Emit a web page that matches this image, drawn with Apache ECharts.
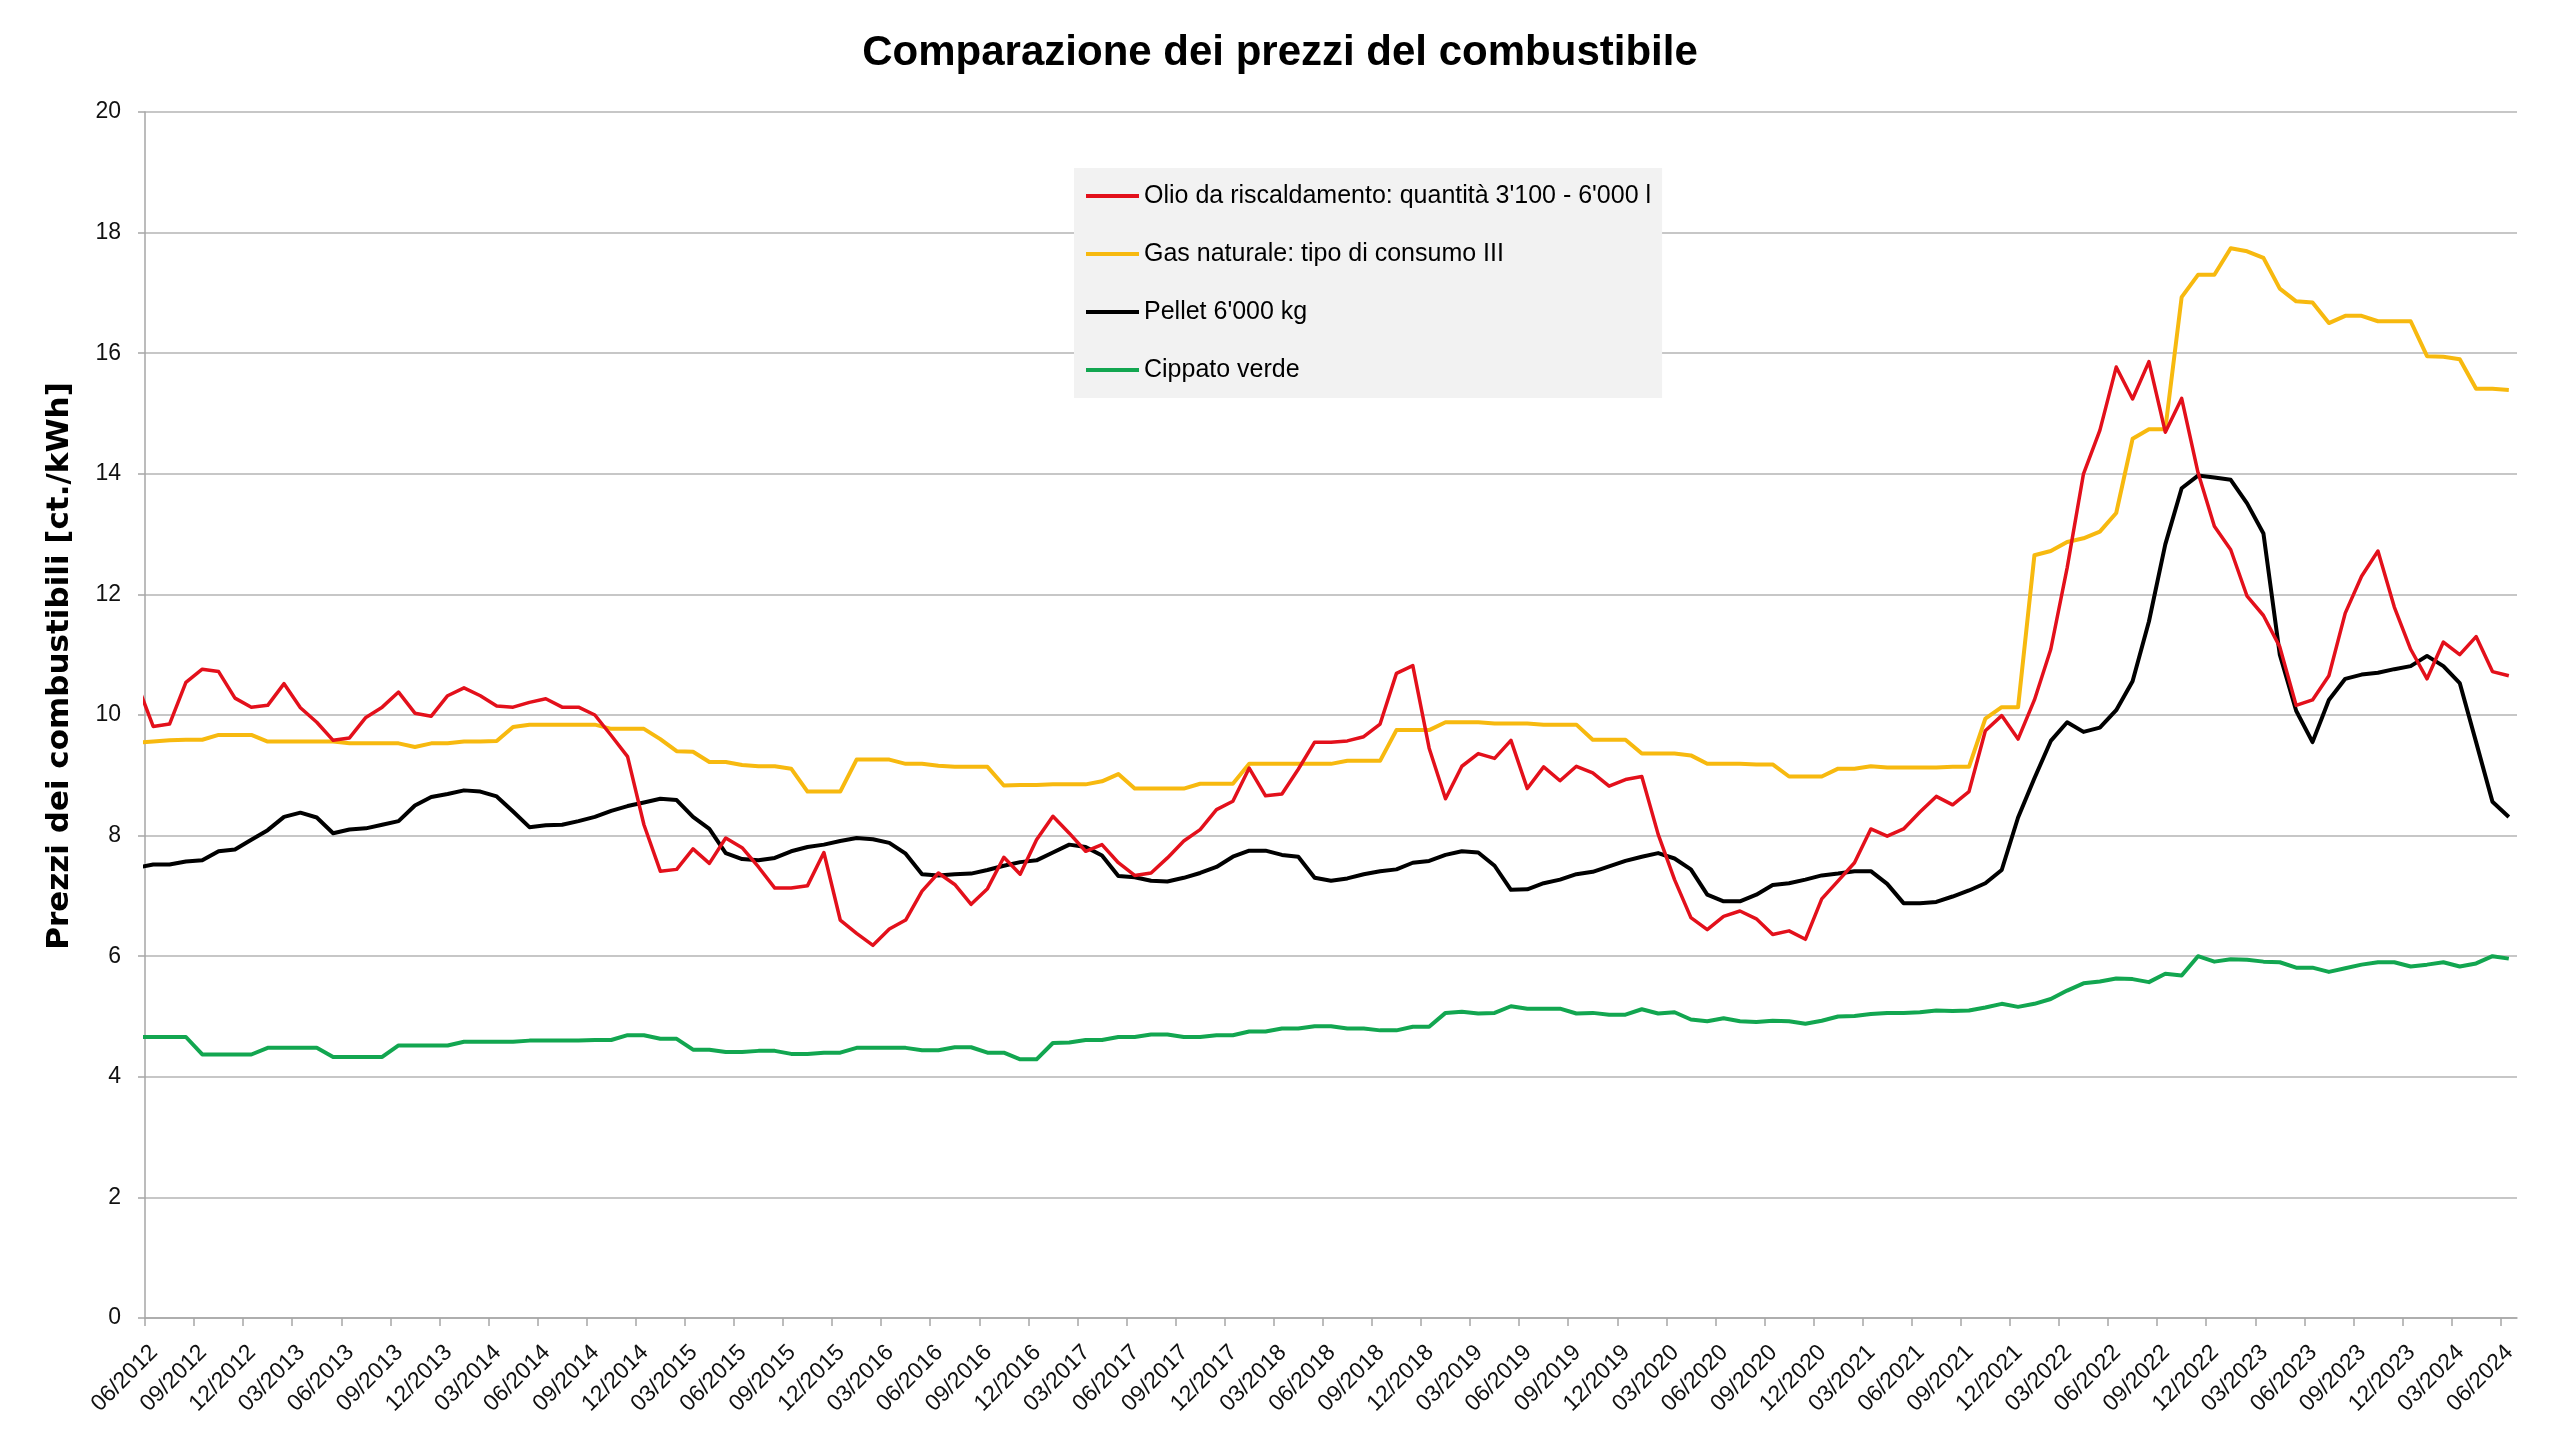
<!DOCTYPE html>
<html>
<head>
<meta charset="utf-8">
<script src="https://cdn.jsdelivr.net/npm/echarts@6/dist/echarts.min.js"></script>
<style>html,body{margin:0;padding:0;background:#fff}#c{width:2560px;height:1440px}</style>
</head>
<body>
<div id="c"></div>
<script>
// Monthly categories: 05/2012 (partly outside the plot) .. 06/2024
const monthLabels = [];
for (let i = 0; i < 146; i++) {
  const m = (4 + i) % 12 + 1;
  const y = 2012 + Math.floor((4 + i) / 12);
  monthLabels.push(String(m).padStart(2, '0') + '/' + y);
}
// x-axis tick labels every 3 months, 06/2012 .. 06/2024
const tickLabels = monthLabels.filter((_, i) => i >= 1 && (i - 1) % 3 === 0);

const seriesNames = [
  "Olio da riscaldamento: quantità 3'100 - 6'000 l",
  "Gas naturale: tipo di consumo III",
  "Pellet 6'000 kg",
  "Cippato verde"
];

const oil = [
  10.53, 9.81, 9.85, 10.54, 10.76, 10.72, 10.28, 10.13, 10.16, 10.52,
  10.12, 9.88, 9.58, 9.62, 9.96, 10.13, 10.38, 10.03, 9.98, 10.32,
  10.45, 10.32, 10.15, 10.13, 10.21, 10.27, 10.13, 10.13, 10.00, 9.66,
  9.31, 8.18, 7.41, 7.44, 7.78, 7.54, 7.96, 7.80, 7.48, 7.13,
  7.13, 7.17, 7.72, 6.60, 6.38, 6.18, 6.45, 6.60, 7.08, 7.38,
  7.19, 6.86, 7.12, 7.64, 7.36, 7.93, 8.32, 8.04, 7.74, 7.85,
  7.55, 7.34, 7.38, 7.63, 7.91, 8.10, 8.43, 8.57, 9.12, 8.66,
  8.69, 9.10, 9.55, 9.55, 9.57, 9.64, 9.85, 10.69, 10.82, 9.45,
  8.61, 9.15, 9.36, 9.28, 9.58, 8.78, 9.14, 8.91, 9.15, 9.04,
  8.82, 8.93, 8.98, 8.02, 7.27, 6.64, 6.44, 6.66, 6.75, 6.62,
  6.36, 6.42, 6.28, 6.95, 7.25, 7.55, 8.11, 7.99, 8.11, 8.39,
  8.65, 8.51, 8.73, 9.74, 9.99, 9.60, 10.25, 11.09, 12.44, 14.00,
  14.72, 15.77, 15.24, 15.86, 14.69, 15.25, 14.02, 13.13, 12.74, 11.97,
  11.65, 11.13, 10.16, 10.25, 10.65, 11.69, 12.30, 12.72, 11.79, 11.09,
  10.60, 11.21, 11.00, 11.30, 10.72, 10.65
];
const gas = [
  9.54, 9.56, 9.58, 9.59, 9.59, 9.67, 9.67, 9.67, 9.56, 9.56,
  9.56, 9.56, 9.56, 9.53, 9.53, 9.53, 9.53, 9.47, 9.53, 9.53,
  9.56, 9.56, 9.57, 9.80, 9.84, 9.84, 9.84, 9.84, 9.84, 9.77,
  9.77, 9.77, 9.60, 9.40, 9.39, 9.22, 9.22, 9.17, 9.15, 9.15,
  9.11, 8.73, 8.73, 8.73, 9.26, 9.26, 9.26, 9.19, 9.19, 9.16,
  9.14, 9.14, 9.14, 8.83, 8.84, 8.84, 8.85, 8.85, 8.85, 8.90,
  9.02, 8.78, 8.78, 8.78, 8.78, 8.86, 8.86, 8.86, 9.19, 9.19,
  9.19, 9.19, 9.19, 9.19, 9.24, 9.24, 9.24, 9.75, 9.75, 9.75,
  9.88, 9.88, 9.88, 9.86, 9.86, 9.86, 9.84, 9.84, 9.84, 9.59,
  9.59, 9.59, 9.36, 9.36, 9.36, 9.33, 9.19, 9.19, 9.19, 9.18,
  9.18, 8.98, 8.98, 8.98, 9.11, 9.11, 9.15, 9.13, 9.13, 9.13,
  9.13, 9.14, 9.14, 9.94, 10.13, 10.13, 12.65, 12.72, 12.87, 12.93,
  13.04, 13.35, 14.58, 14.74, 14.74, 16.93, 17.30, 17.30, 17.74, 17.69,
  17.58, 17.07, 16.86, 16.84, 16.50, 16.62, 16.62, 16.53, 16.53, 16.53,
  15.95, 15.94, 15.90, 15.41, 15.41, 15.39
];
const pellet = [
  7.47, 7.52, 7.52, 7.57, 7.59, 7.74, 7.77, 7.93, 8.09, 8.31,
  8.38, 8.30, 8.04, 8.10, 8.12, 8.18, 8.24, 8.50, 8.64, 8.69,
  8.75, 8.73, 8.65, 8.40, 8.14, 8.17, 8.18, 8.24, 8.31, 8.41,
  8.49, 8.55, 8.61, 8.59, 8.31, 8.11, 7.71, 7.61, 7.59, 7.63,
  7.74, 7.81, 7.85, 7.91, 7.96, 7.94, 7.88, 7.70, 7.36, 7.34,
  7.36, 7.37, 7.43, 7.50, 7.56, 7.59, 7.72, 7.85, 7.81, 7.67,
  7.33, 7.31, 7.25, 7.24, 7.30, 7.38, 7.48, 7.65, 7.75, 7.75,
  7.68, 7.65, 7.30, 7.25, 7.29, 7.36, 7.41, 7.44, 7.55, 7.58,
  7.68, 7.74, 7.72, 7.50, 7.10, 7.11, 7.21, 7.27, 7.36, 7.40,
  7.49, 7.58, 7.65, 7.71, 7.62, 7.44, 7.02, 6.91, 6.91, 7.02,
  7.18, 7.21, 7.27, 7.34, 7.37, 7.41, 7.41, 7.20, 6.88, 6.88,
  6.90, 6.99, 7.09, 7.21, 7.43, 8.30, 8.95, 9.57, 9.88, 9.72,
  9.79, 10.08, 10.56, 11.55, 12.83, 13.76, 13.97, 13.94, 13.90, 13.51,
  13.01, 11.00, 10.07, 9.55, 10.25, 10.60, 10.67, 10.70, 10.76, 10.81,
  10.98, 10.81, 10.53, 9.55, 8.56, 8.31
];
const woodChips = [
  4.66, 4.66, 4.66, 4.66, 4.37, 4.37, 4.37, 4.37, 4.48, 4.48,
  4.48, 4.48, 4.33, 4.33, 4.33, 4.33, 4.52, 4.52, 4.52, 4.52,
  4.58, 4.58, 4.58, 4.58, 4.60, 4.60, 4.60, 4.60, 4.61, 4.61,
  4.69, 4.69, 4.63, 4.63, 4.45, 4.45, 4.41, 4.41, 4.43, 4.43,
  4.38, 4.38, 4.40, 4.40, 4.48, 4.48, 4.48, 4.48, 4.44, 4.44,
  4.49, 4.49, 4.40, 4.40, 4.29, 4.29, 4.56, 4.57, 4.61, 4.61,
  4.66, 4.66, 4.70, 4.70, 4.66, 4.66, 4.69, 4.69, 4.75, 4.75,
  4.80, 4.80, 4.84, 4.84, 4.80, 4.80, 4.77, 4.77, 4.83, 4.83,
  5.06, 5.08, 5.05, 5.06, 5.17, 5.13, 5.13, 5.13, 5.05, 5.06,
  5.03, 5.03, 5.12, 5.05, 5.07, 4.95, 4.92, 4.97, 4.92, 4.91,
  4.93, 4.92, 4.88, 4.93, 5.00, 5.01, 5.04, 5.06, 5.06, 5.07,
  5.10, 5.09, 5.10, 5.15, 5.21, 5.16, 5.21, 5.29, 5.43, 5.55,
  5.58, 5.63, 5.62, 5.57, 5.71, 5.68, 6.00, 5.91, 5.95, 5.94,
  5.91, 5.90, 5.81, 5.81, 5.74, 5.80, 5.86, 5.90, 5.90, 5.83,
  5.86, 5.90, 5.83, 5.88, 6.00, 5.96
];
const yTicks = [0, 2, 4, 6, 8, 10, 12, 14, 16, 18, 20];

// axis position of each monthly value: middle of its month (month index - 0.5)
const pts = arr => arr.map((v, i) => [i - 0.5, v]);
const tickValues = tickLabels.map((_, j) => j * 3);
// rotated labels sit slightly right of their tick, as in the original
const labelValues = tickValues.map(v => v + 0.55);

const FONT = "'Liberation Sans', Arial, sans-serif";
const colors = ['#E3101B', '#F7B90F', '#000000', '#12A650'];
const widths = [3.5, 4, 4, 4];
const seriesData = [oil, gas, pellet, woodChips];

const chart = echarts.init(document.getElementById('c'), null, {renderer: 'canvas'});
chart.setOption({
  animation: false,
  backgroundColor: '#ffffff',
  title: {
    text: 'Comparazione dei prezzi del combustibile',
    left: 'center',
    top: 27,
    textStyle: {fontFamily: FONT, fontSize: 42, fontWeight: 'bold', color: '#000'}
  },
  legend: {
    orient: 'vertical',
    left: 1074,
    top: 168,
    padding: [13, 11, 13, 12],
    itemGap: 28,
    itemWidth: 53,
    itemHeight: 4,
    icon: 'rect',
    backgroundColor: '#f2f2f2',
    textStyle: {fontFamily: FONT, fontSize: 25, lineHeight: 30, color: '#000'},
    data: seriesNames
  },
  graphic: [{
    type: 'text',
    x: 60,
    y: 666,
    rotation: Math.PI / 2,
    style: {
      text: 'Prezzi dei combustibili [ct./kWh]',
      fontFamily: "'DejaVu Sans', Verdana, sans-serif",
      fontSize: 31,
      fontWeight: 'bold',
      fill: '#000',
      textAlign: 'center',
      textVerticalAlign: 'middle'
    }
  }],
  grid: {left: 145, right: 43, top: 112, bottom: 122, containLabel: false},
  xAxis: {
    type: 'value',
    min: 0,
    max: 145,
    axisLine: {show: true, lineStyle: {color: '#a6a6a6', width: 1.5}},
    axisTick: {show: true, length: 8, customValues: tickValues, lineStyle: {color: '#a6a6a6', width: 1.5}},
    axisLabel: {
      customValues: labelValues,
      rotate: 45,
      margin: 31,
      fontFamily: FONT,
      fontSize: 23,
      color: '#111',
      formatter: v => tickLabels[Math.round((v - 0.55) / 3)] || ''
    },
    splitLine: {show: false}
  },
  yAxis: {
    type: 'value',
    min: yTicks[0],
    max: yTicks[yTicks.length - 1],
    interval: 2,
    axisLine: {show: true, lineStyle: {color: '#a6a6a6', width: 1.5}},
    axisTick: {show: true, length: 7, lineStyle: {color: '#a6a6a6', width: 1.5}},
    axisLabel: {margin: 24, fontFamily: FONT, fontSize: 23, color: '#111'},
    splitLine: {show: true, lineStyle: {color: '#b4b4b4', width: 1.5}}
  },
  series: seriesNames.map((name, s) => ({
    name: name,
    type: 'line',
    data: pts(seriesData[s]),
    showSymbol: false,
    symbol: 'none',
    clip: true,
    color: colors[s],
    lineStyle: {color: colors[s], width: widths[s], join: 'round'},
    z: 10 - s
  }))
});
</script>
</body>
</html>
